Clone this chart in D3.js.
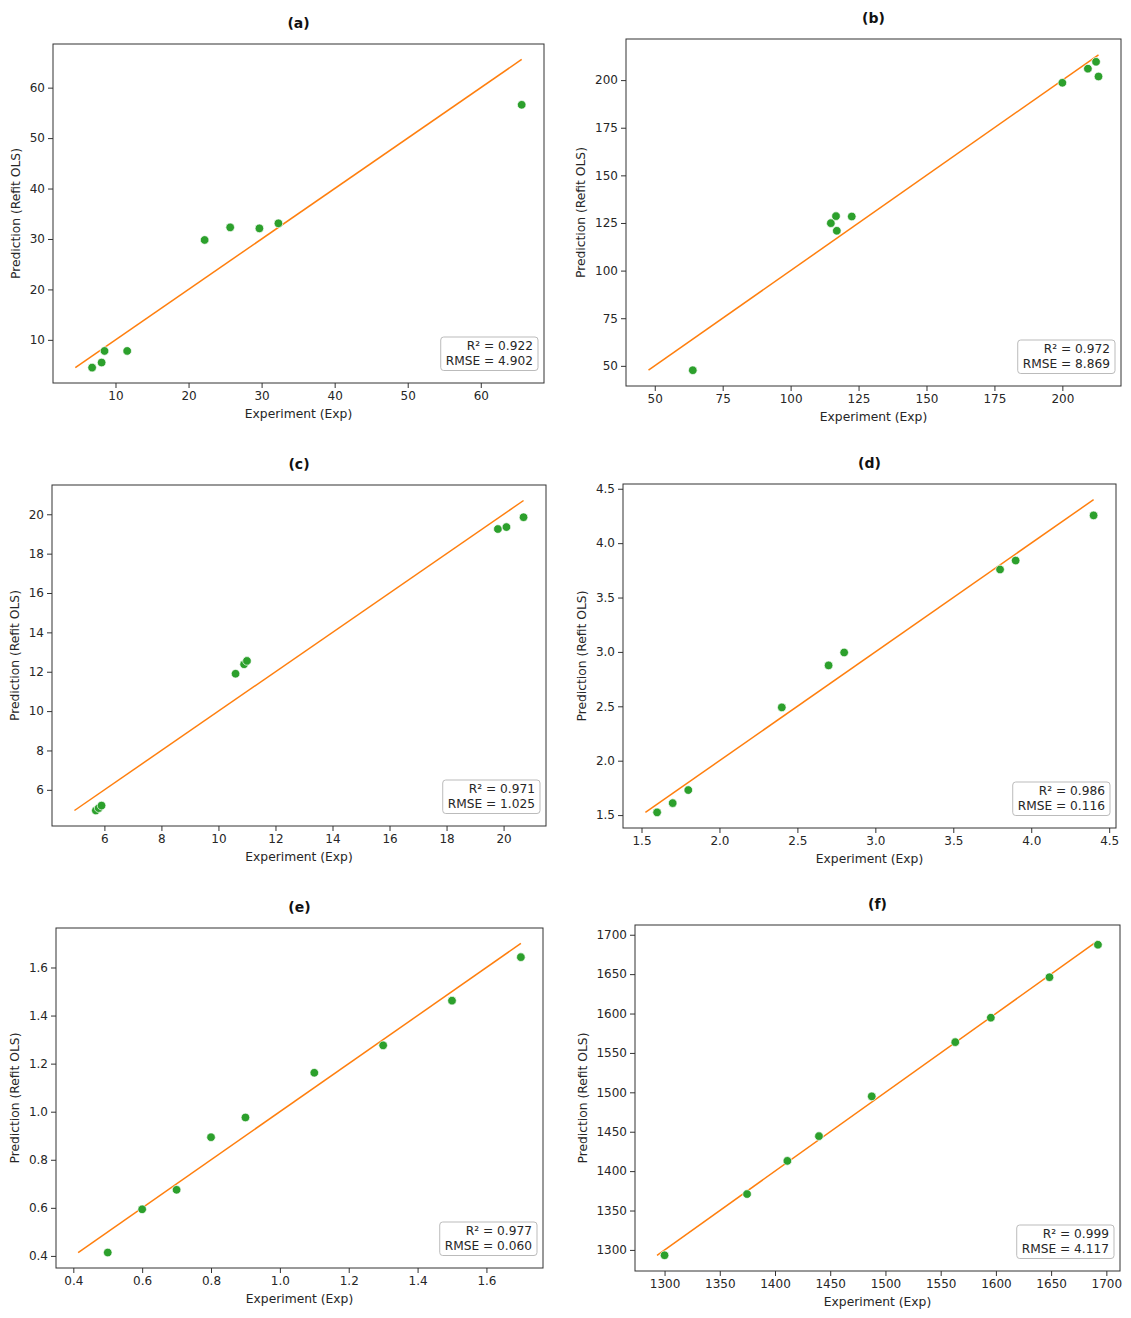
<!DOCTYPE html>
<meta charset="utf-8">
<style>
  body { margin: 0; background: #fff; }
  svg { font-family: "DejaVu Sans", sans-serif; }
  .frame { fill: none; stroke: #333; stroke-width: 1; }
  .lab { fill: #262626; font-size: 12.3px; }
</style>
<body>
<script src="https://d3js.org/d3.v7.min.js"></script>
<script>

// panel data
var panelIds = ["(a)", "(b)", "(c)", "(d)", "(e)", "(f)"];

var expA = [6.8, 8.1, 8.5, 11.6, 22.2, 25.7, 29.7, 32.3, 65.6];
var predA = [4.5, 5.5, 7.8, 7.8, 29.8, 32.3, 32.1, 33.1, 56.6];

var expB = [64.0, 114.8, 116.7, 117.0, 122.5, 200.0, 209.4, 212.4, 213.3];
var predB = [47.7, 124.9, 128.6, 120.9, 128.4, 198.6, 206.0, 209.6, 201.9];

var expC = [5.7, 5.8, 5.9, 10.6, 10.9, 11.0, 19.8, 20.1, 20.7];
var predC = [4.95, 5.07, 5.2, 11.9, 12.38, 12.55, 19.25, 19.35, 19.85];

var expD = [1.6, 1.7, 1.8, 2.4, 2.7, 2.8, 3.8, 3.9, 4.4];
var predD = [1.525, 1.61, 1.73, 2.49, 2.876, 2.995, 3.758, 3.84, 4.255];

var expE = [0.5, 0.6, 0.7, 0.8, 0.9, 1.1, 1.3, 1.5, 1.7];
var predE = [0.414, 0.594, 0.675, 0.894, 0.976, 1.162, 1.276, 1.462, 1.643];

var expF = [1300, 1374.7, 1411.2, 1439.8, 1487.6, 1563.2, 1595.4, 1648.5, 1692.4];
var predF = [1293.2, 1370.9, 1413, 1444.4, 1494.9, 1563.7, 1594.7, 1646.1, 1687.3];

var r2Vals = ["0.922", "0.972", "0.971", "0.986", "0.977", "0.999"];
var rmseVals = ["4.902", "8.869", "1.025", "0.116", "0.060", "4.117"];

// tick labels (same on both axes of each panel)
var ticksA = [10, 20, 30, 40, 50, 60];
var ticksB = [50, 75, 100, 125, 150, 175, 200];
var ticksC = [6, 8, 10, 12, 14, 16, 18, 20];
var ticksD = [1.5, 2.0, 2.5, 3.0, 3.5, 4.0, 4.5];
var ticksE = [0.4, 0.6, 0.8, 1.0, 1.2, 1.4, 1.6];
var ticksF = [1300, 1350, 1400, 1450, 1500, 1550, 1600, 1650, 1700];
var tickFmt = ["d", "d", "d", ".1f", ".1f", "d"];

// where each axes box sits on the page
var boxes = [
  { l: 53, r: 544, t: 44, b: 383 },
  { l: 626, r: 1121, t: 39, b: 386 },
  { l: 52, r: 546, t: 485, b: 826 },
  { l: 623, r: 1116, t: 484, b: 828 },
  { l: 56, r: 543, t: 928, b: 1268 },
  { l: 635, r: 1120, t: 925, b: 1271 }
];

var exps = [expA, expB, expC, expD, expE, expF];
var preds = [predA, predB, predC, predD, predE, predF];
var ticks = [ticksA, ticksB, ticksC, ticksD, ticksE, ticksF];

var svg = d3.select("body").append("svg")
  .attr("width", 1131)
  .attr("height", 1318);

function styleAxis(a) {
  a.select(".domain").remove();
  a.attr("font-family", null).attr("font-size", null);
  a.selectAll(".tick line").attr("stroke", "#333");
  a.selectAll(".tick text")
    .attr("fill", "#262626")
    .style("font-family", "'DejaVu Sans', sans-serif")
    .style("font-size", "12px");
}

panelIds.forEach(function (id, i) {
  var bx = boxes[i];
  var ex = exps[i], pr = preds[i];
  var lo = d3.min(ex.concat(pr)), hi = d3.max(ex.concat(pr));
  var pad = (hi - lo) * 0.05;

  var x = d3.scaleLinear().domain([lo - pad, hi + pad]).range([bx.l, bx.r]);
  var y = d3.scaleLinear().domain([lo - pad, hi + pad]).range([bx.b, bx.t]);
  var fmt = d3.format(tickFmt[i]);

  var g = svg.append("g");

  g.append("g")
    .attr("transform", "translate(0," + bx.b + ")")
    .call(d3.axisBottom(x).tickValues(ticks[i]).tickFormat(fmt).tickSize(5).tickPadding(3))
    .call(styleAxis);

  var yAx = g.append("g")
    .attr("transform", "translate(" + bx.l + ",0)")
    .call(d3.axisLeft(y).tickValues(ticks[i]).tickFormat(fmt).tickSize(5).tickPadding(3))
    .call(styleAxis);

  // identity line
  g.append("line")
    .attr("x1", x(lo)).attr("y1", y(lo))
    .attr("x2", x(hi)).attr("y2", y(hi))
    .attr("stroke", "#ff7f0e")
    .attr("stroke-width", 1.5);

  g.selectAll("circle")
    .data(d3.zip(ex, pr))
    .enter()
    .append("circle")
    .attr("cx", function (d) { return x(d[0]); })
    .attr("cy", function (d) { return y(d[1]); })
    .attr("r", 4.3)
    .attr("fill", "#2ca02c")
    .attr("stroke", "#fff")
    .attr("stroke-width", 0.7);

  g.append("rect")
    .attr("class", "frame")
    .attr("x", bx.l).attr("y", bx.t)
    .attr("width", bx.r - bx.l).attr("height", bx.b - bx.t);

  // title + axis labels
  g.append("text")
    .attr("x", (bx.l + bx.r) / 2)
    .attr("y", bx.t - 16)
    .attr("text-anchor", "middle")
    .style("font-size", "14px")
    .style("font-weight", "bold")
    .attr("fill", "#111")
    .text(id);

  g.append("text")
    .attr("class", "lab")
    .attr("x", (bx.l + bx.r) / 2)
    .attr("y", bx.b + 35)
    .attr("text-anchor", "middle")
    .text("Experiment (Exp)");

  // y label sits just left of the widest tick label
  var axBox = yAx.node().getBBox();
  var yl = bx.l + axBox.x - 14;
  g.append("text")
    .attr("class", "lab")
    .attr("transform", "translate(" + (yl) + "," + ((bx.t + bx.b) / 2) + ") rotate(-90)")
    .attr("text-anchor", "middle")
    .attr("dy", "0.35em")
    .text("Prediction (Refit OLS)");

  // stats box
  var boxR = bx.r - 6, boxB = bx.b - 12.5;
  var leg = g.append("g");
  var bg = leg.append("rect");
  var tx = leg.append("text")
    .attr("text-anchor", "end")
    .attr("fill", "#262626")
    .style("font-size", "12.2px");
  tx.append("tspan").attr("x", boxR - 5).attr("y", boxB - 20.5).text("R\u00b2 = " + r2Vals[i]);
  tx.append("tspan").attr("x", boxR - 5).attr("y", boxB - 5.5).text("RMSE = " + rmseVals[i]);
  var bb = tx.node().getBBox();
  bg.attr("x", bb.x - 5).attr("y", boxB - 33.5)
    .attr("width", boxR - bb.x + 5).attr("height", 33.5)
    .attr("rx", 3).attr("ry", 3)
    .attr("fill", "#fff").attr("fill-opacity", 0.8)
    .attr("stroke", "#bbb").attr("stroke-width", 1);
});

</script>
</body>
